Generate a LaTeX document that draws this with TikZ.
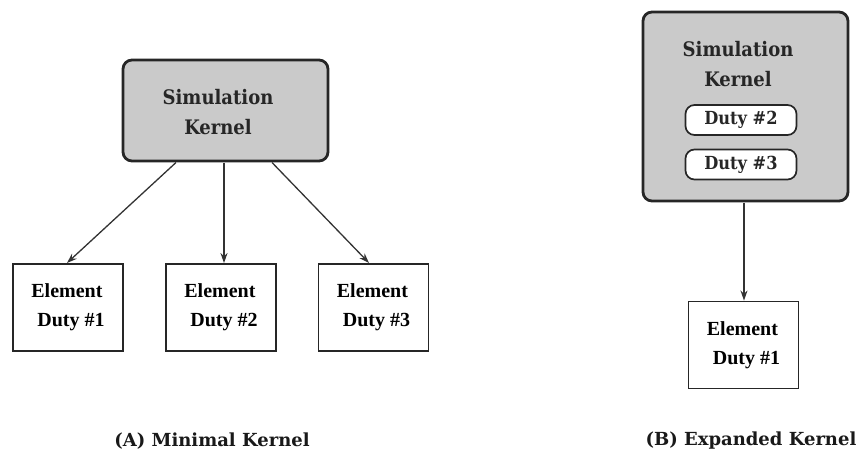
\documentclass[tikz,border=0pt]{standalone}
\usepackage{fontspec}
\setmainfont{Liberation Serif}
\newfontfamily\kernfont{DejaVu Serif Condensed}
\newfontfamily\capfont{DejaVu Serif}
\usetikzlibrary{arrows.meta}
\definecolor{kernelgray}{RGB}{202,202,202}
\tikzset{
  kernelbox/.style={draw=black!85, line width=2.8pt, fill=kernelgray, rounded corners=9pt},
  elembox/.style={draw=black!85, line width=1.9pt, fill=white, minimum width=110pt,
    minimum height=87pt, font=\bfseries\fontsize{20}{29}\selectfont, align=left, inner sep=0pt},
  dutypill/.style={draw=black!85, line width=1.7pt, fill=white, rounded corners=9pt,
    minimum width=111pt, minimum height=30pt, inner sep=0pt,
    font=\kernfont\bfseries\fontsize{18}{20}\selectfont, text=black!85},
  kerntext/.style={font=\kernfont\bfseries\fontsize{20}{30}\selectfont, align=center, text=black!85},
  captext/.style={font=\capfont\bfseries\fontsize{18}{21}\selectfont, text=black!90},
  link/.style={line width=1.3pt, draw=black!80, -{Stealth[length=10pt,width=7pt]}}
}
\begin{document}
\begin{tikzpicture}[x=1pt,y=-1pt]
  \useasboundingbox (0,0) rectangle (864,458);
  % (A) minimal kernel: kernel alone, three element duties outside
  \draw[kernelbox] (123,60) rectangle (328,161);
  \node[kerntext] (kA) at (218,112) {Simulation\\Kernel};
  \node[elembox] (e1) at (68,307.5) {Element\\\hspace*{6pt}Duty \#1};
  \node[elembox] (e2) at (221,307.5) {Element\\\hspace*{6pt}Duty \#2};
  \node[elembox] (e3) at (373.5,307.5) {Element\\\hspace*{6pt}Duty \#3};
  \coordinate (a1) at (176,162.5);
  \coordinate (a2) at (224,162.5);
  \coordinate (a3) at (272,162.5);
  \coordinate (t1) at (67,263);
  \coordinate (t3) at (369,263);
  \draw[link] (a1) -- (t1);
  \draw[link] (a2) -- (a2 |- e2.north);
  \draw[link] (a3) -- (t3);
  \node[captext] (capA) at (212,441) {(A) Minimal Kernel};
  % (B) expanded kernel: two duties folded into the kernel
  \draw[kernelbox] (643,12) rectangle (848,201);
  \node[kerntext] (kB) at (738,64) {Simulation\\Kernel};
  \node[dutypill] (d2) at (741,120) {Duty \#2};
  \node[dutypill] (d3) at (741,164.5) {Duty \#3};
  \coordinate (b0) at (744,202.5);
  \node[elembox] (e4) at (743.5,345) {Element\\\hspace*{6pt}Duty \#1};
  \draw[link] (b0) -- (b0 |- e4.north);
  \node[captext] (capB) at (751,441) {(B) Expanded Kernel};
\end{tikzpicture}
\end{document}
